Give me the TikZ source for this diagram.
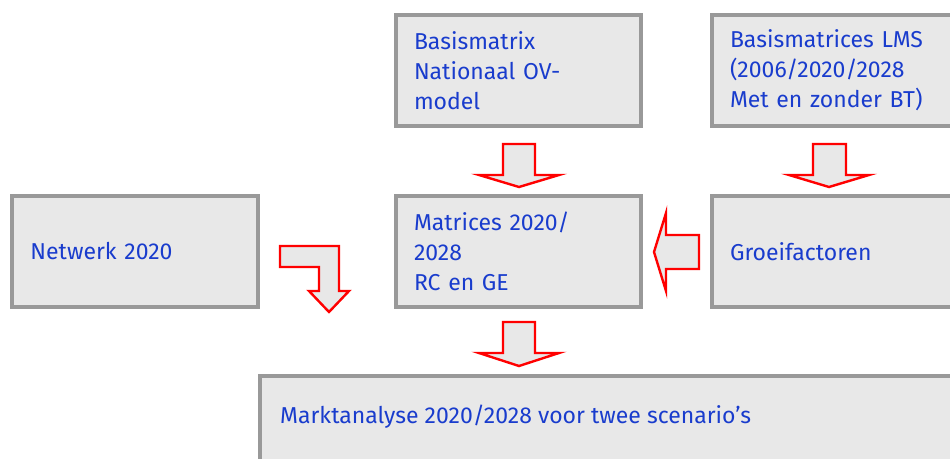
\documentclass[tikz,border=0pt]{standalone}
\usepackage{fontspec}
\setmainfont{Fira Sans}
\definecolor{txtblue}{RGB}{25,60,205}
\definecolor{boxgray}{RGB}{153,153,153}
\definecolor{boxfill}{RGB}{232,232,232}
\definecolor{arrred}{RGB}{255,0,0}
\begin{document}
\begin{tikzpicture}[x=1bp,y=-1bp,
  box/.style={draw=boxgray, line width=4bp, fill=boxfill, rectangle, minimum width=245bp, minimum height=111bp, inner xsep=18bp, text width=209bp, align=left, font=\fontsize{23bp}{30bp}\selectfont, text=txtblue},
  txt/.style={text=txtblue, font=\fontsize{23bp}{30bp}\selectfont, inner sep=0pt},
  blockarrow/.style={draw=arrred, line width=2.4bp, fill=boxfill, line join=miter}]
\useasboundingbox (0,0) rectangle (950,459);
\clip (0,0) rectangle (950,459);
\fill[white] (0,0) rectangle (950,459);
\node[box] (b1) at (518.5,70.5) {Basismatrix\\Nationaal OV-\\model};
\node[box] (b2) at (834.5,70.5) {Basismatrices LMS\\(2006/2020/2028\\Met en zonder BT)};
\node[box] (b3) at (135,251.5) {Netwerk 2020};
\node[box] (b4) at (518.5,251.5) {Matrices 2020/\\2028\\RC en GE};
\node[box] (b5) at (834.5,251.5) {Groeifactoren};
\node[box, minimum width=720bp, minimum height=100bp, text width=684bp] (b6) at (620,426) {};
\node[txt, anchor=west] (t6) at (280,417) {Marktanalyse 2020/2028 voor twee scenario's};
% block arrows
\draw[blockarrow] (503,144) -- (535,144) -- (535,175) -- (559,175) -- (519,187) -- (479,175) -- (503,175) -- cycle;
\draw[blockarrow] (813,144) -- (846,144) -- (846,175) -- (869,175) -- (829,187) -- (789,175) -- (813,175) -- cycle;
\draw[blockarrow] (699,235) -- (699,269) -- (666,269) -- (666,291) -- (654,252) -- (666,213) -- (666,235) -- cycle;
\draw[blockarrow] (280,246) -- (339,246) -- (339,291) -- (349,291) -- (329,312) -- (309,291) -- (319,291) -- (319,267) -- (280,267) -- cycle;
\draw[blockarrow] (503,322) -- (535,322) -- (535,353) -- (559,353) -- (519,366) -- (479,353) -- (503,353) -- cycle;
\end{tikzpicture}
\end{document}
